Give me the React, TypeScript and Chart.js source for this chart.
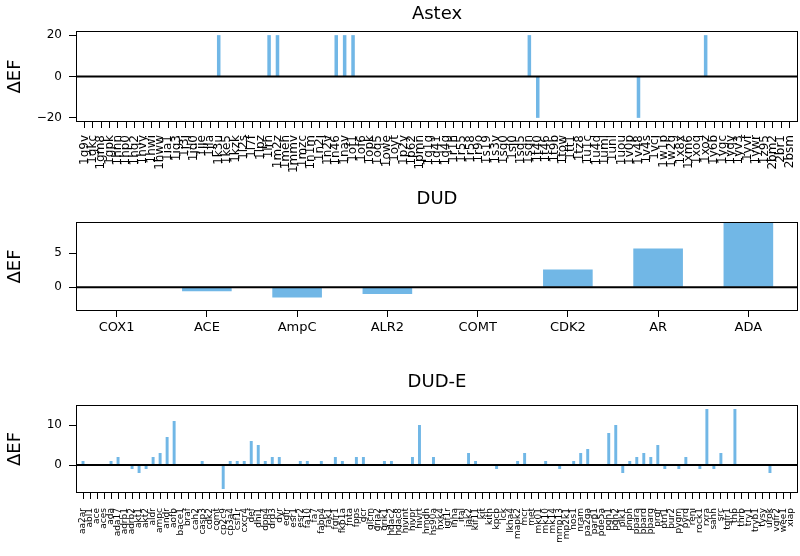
import React, { useEffect, useRef } from 'react';
import { Chart, registerables } from 'chart.js';

Chart.register(...registerables);

// ---------------- data ----------------
const astexLabels = [
  '1g9v', '1gkc', '1gm8', '1gpk', '1hnn', '1hp0', '1hq2', '1hvy', '1hwi', '1hww',
  '1ia1', '1ig3', '1j3j', '1jd0', '1jje', '1jla', '1k3u', '1ke5', '1kzk', '1l2s',
  '1l7f', '1lpz', '1lrh', '1m2z', '1meh', '1mmv', '1mzc', '1n1m', '1n2j', '1n2v',
  '1n46', '1nav', '1of1', '1of6', '1opk', '1oq5', '1owe', '1oyt', '1p2y', '1p62',
  '1pmn', '1q1g', '1q41', '1q4g', '1r1h', '1r55', '1r58', '1r9o', '1s19', '1s3v',
  '1sg0', '1sj0', '1sq5', '1sqn', '1t40', '1t46', '1t9b', '1tow', '1tt1', '1tz8',
  '1u1c', '1u4d', '1uml', '1unl', '1uou', '1v0p', '1v48', '1v4s', '1vcj', '1w1p',
  '1w2g', '1x8x', '1xm6', '1xoq', '1xoz', '1y6b', '1ygc', '1yqy', '1yv3', '1yvf',
  '1ywr', '1z95', '2bm2', '2br1', '2bsm',
];
const astexValues = [
  0, 0, 0, 0, 0, 0, 0, 0, 0, 0,
  0, 0, 0, 0, 0, 0, 20, 0, 0, 0,
  0, 0, 20, 20, 0, 0, 0, 0, 0, 0,
  20, 20, 20, 0, 0, 0, 0, 0, 0, 0,
  0, 0, 0, 0, 0, 0, 0, 0, 0, 0,
  0, 0, 0, 20, -20, 0, 0, 0, 0, 0,
  0, 0, 0, 0, 0, 0, -20, 0, 0, 0,
  0, 0, 0, 0, 20, 0, 0, 0, 0, 0,
  0, 0, 0, 0, 0,
];
const astexTicks = [-20, 0, 20];

const dudLabels = ['COX1', 'ACE', 'AmpC', 'ALR2', 'COMT', 'CDK2', 'AR', 'ADA'];
const dudValues = [0, -0.6, -1.5, -1.0, 0, 2.6, 5.7, 9.5];
const dudTicks = [0, 5];

const dudeLabels = [
  'aa2ar', 'abl1', 'ace', 'aces', 'ada', 'ada17', 'adrb1', 'adrb2', 'akt1', 'akt2',
  'aldr', 'ampc', 'andr', 'aofb', 'bace1', 'braf', 'cah2', 'casp3', 'cdk2', 'comt',
  'cp2c9', 'cp3a4', 'csf1r', 'cxcr4', 'def', 'dhi1', 'dpp4', 'drd3', 'dyr', 'egfr',
  'esr1', 'esr2', 'fa10', 'fa7', 'fabp4', 'fak1', 'fgfr1', 'fkb1a', 'fnta', 'fpps',
  'gcr', 'glcm', 'gria2', 'grik1', 'hdac2', 'hdac8', 'hivint', 'hivpr', 'hivrt', 'hmdh',
  'hs90a', 'hxk4', 'igf1r', 'inha', 'ital', 'jak2', 'kif11', 'kit', 'kith', 'kpcb',
  'lck', 'lkha4', 'mapk2', 'mcr', 'met', 'mk01', 'mk10', 'mk14', 'mmp13', 'mp2k1',
  'nos1', 'nram', 'pa2ga', 'parp1', 'pde5a', 'pgh1', 'pgh2', 'plk1', 'pnph', 'ppara',
  'ppard', 'pparg', 'prgr', 'ptn1', 'pur2', 'pygm', 'pyrd', 'reni', 'rock1', 'rxra',
  'sahh', 'src', 'tgfr1', 'thb', 'thrb', 'try1', 'tryb1', 'tysy', 'urok', 'vgfr2',
  'wee1', 'xiap',
];
const dudeValues = [
  1, 0, 0, 0, 1, 2, 0, -1, -2, -1,
  2, 3, 7, 11, 0, 0, 0, 1, 0, 0,
  -6, 1, 1, 1, 6, 5, 1, 2, 2, 0,
  0, 1, 1, 0, 1, 0, 2, 1, 0, 2,
  2, 0, 0, 1, 1, 0, 0, 2, 10, 0,
  2, 0, 0, 0, 0, 3, 1, 0, 0, -1,
  0, 0, 1, 3, 0, 0, 1, 0, -1, 0,
  1, 3, 4, 0, 0, 8, 10, -2, 1, 2,
  3, 2, 5, -1, 0, -1, 2, 0, -1, 14,
  -1, 3, 0, 14, 0, 0, 0, 0, -2, 0,
  0, 0,
];
const dudeTicks = [0, 10];

// ---------------- styling ----------------
const FONT = "'DejaVu Sans', 'Liberation Sans', sans-serif";
const BAR_COLOR = '#71b7e6';
const W = 800;
const H = 556;

const decoPlugin = {
  id: 'deco',
  afterDatasetsDraw(chart: any, _args: any, opts: any) {
    const { ctx, chartArea: a, scales } = chart;
    const y0 = scales.y.getPixelForValue(0);
    ctx.save();
    // zero line
    ctx.strokeStyle = '#000';
    ctx.lineWidth = 2;
    ctx.beginPath();
    ctx.moveTo(a.left, y0);
    ctx.lineTo(a.right, y0);
    ctx.stroke();
    // frame
    ctx.lineWidth = 1;
    ctx.strokeRect(
      Math.round(a.left) + 0.5,
      Math.round(a.top) + 0.5,
      Math.round(a.right) - Math.round(a.left) - 1,
      Math.round(a.bottom) - Math.round(a.top) - 1,
    );
    // title
    ctx.fillStyle = '#000';
    ctx.font = `18px ${FONT}`;
    ctx.textAlign = 'center';
    ctx.textBaseline = 'alphabetic';
    ctx.fillText(opts.title, (a.left + a.right) / 2, a.top - opts.titleGap);
    // y label
    ctx.translate(20, (a.top + a.bottom) / 2);
    ctx.rotate(-Math.PI / 2);
    ctx.fillText('ΔEF', 0, 0);
    ctx.restore();
  },
};

const fmt = (v: number) => (v < 0 ? '\u2212' + Math.abs(v) : String(v));

function makeConfig(p: any) {
  const data = p.values.map((v: number, i: number) => ({ x: i, y: v }));
  return {
    type: 'bar',
    data: {
      datasets: [
        {
          data,
          backgroundColor: BAR_COLOR,
          borderWidth: 0,
          barPercentage: p.barPct,
          categoryPercentage: 1,
        },
      ],
    },
    options: {
      responsive: false,
      animation: false,
      devicePixelRatio: 1,
      events: [],
      layout: {
        padding: { top: p.top, bottom: H - p.bottom - p.xAxisH, left: 0, right: 2 },
      },
      plugins: {
        legend: { display: false },
        tooltip: { enabled: false },
        title: { display: false },
        deco: { title: p.title, titleGap: p.titleGap },
      },
      scales: {
        x: {
          type: 'linear',
          min: p.xMin,
          max: p.xMax,
          offset: false,
          afterBuildTicks: (axis: any) => {
            axis.ticks = p.labels.map((_: string, i: number) => ({ value: i }));
          },
          afterFit: (scale: any) => {
            scale.height = p.xAxisH;
            scale.paddingLeft = 0;
            scale.paddingRight = 0;
          },
          border: { display: false },
          grid: {
            display: true,
            offset: false,
            drawOnChartArea: false,
            drawTicks: true,
            tickLength: 6,
            tickColor: '#000',
            tickWidth: 1,
          },
          ticks: {
            autoSkip: false,
            maxRotation: p.rotate ? 90 : 0,
            minRotation: p.rotate ? 90 : 0,
            padding: p.xPad,
            color: '#000',
            font: { family: FONT, size: p.xFont },
            callback: (v: number) => p.labels[v] ?? '',
          },
        },
        y: {
          type: 'linear',
          min: p.yMin,
          max: p.yMax,
          afterBuildTicks: (axis: any) => {
            axis.ticks = p.yTicks.map((v: number) => ({ value: v }));
          },
          afterFit: (scale: any) => {
            scale.width = 76;
            scale.paddingTop = 0;
            scale.paddingBottom = 0;
          },
          border: { display: false },
          grid: {
            display: true,
            offset: false,
            drawOnChartArea: false,
            drawTicks: true,
            tickLength: 7,
            tickColor: '#000',
            tickWidth: 1,
          },
          ticks: {
            padding: 7,
            color: '#000',
            font: { family: FONT, size: 12 },
            callback: (v: number) => fmt(v),
          },
        },
      },
    },
    plugins: [decoPlugin],
  };
}

const panels = [
  {
    title: 'Astex', labels: astexLabels, values: astexValues, yTicks: astexTicks,
    xMin: -1, xMax: 85, yMin: -22, yMax: 22, titleGap: 12.5,
    top: 31, bottom: 122, xAxisH: 60, rotate: true, xFont: 12, xPad: 7, barPct: 0.42,
  },
  {
    title: 'DUD', labels: dudLabels, values: dudValues, yTicks: dudTicks,
    xMin: -0.45, xMax: 7.55, yMin: -3.5, yMax: 9.6, titleGap: 18.5,
    top: 222, bottom: 311, xAxisH: 30, rotate: false, xFont: 13, xPad: 3, barPct: 0.55,
  },
  {
    title: 'DUD-E', labels: dudeLabels, values: dudeValues, yTicks: dudeTicks,
    xMin: -1, xMax: 102, yMin: -7, yMax: 15, titleGap: 18.5,
    top: 405, bottom: 493, xAxisH: 63, rotate: true, xFont: 9, xPad: 9, barPct: 0.42,
  },
];

function Panel({ p }: { p: any }) {
  const ref = useRef<HTMLCanvasElement | null>(null);
  useEffect(() => {
    if (!ref.current) return;
    const chart = new Chart(ref.current, makeConfig(p) as any);
    return () => chart.destroy();
  }, [p]);
  return (
    <canvas
      ref={ref}
      width={W}
      height={H}
      style={{ position: 'absolute', left: 0, top: 0, width: W, height: H }}
    />
  );
}

export default function App() {
  return (
    <div
      style={{
        position: 'absolute',
        left: 0,
        top: 0,
        width: W,
        height: H,
        background: '#fff',
        overflow: 'hidden',
      }}
    >
      {panels.map((p) => (
        <Panel key={p.title} p={p} />
      ))}
    </div>
  );
}
